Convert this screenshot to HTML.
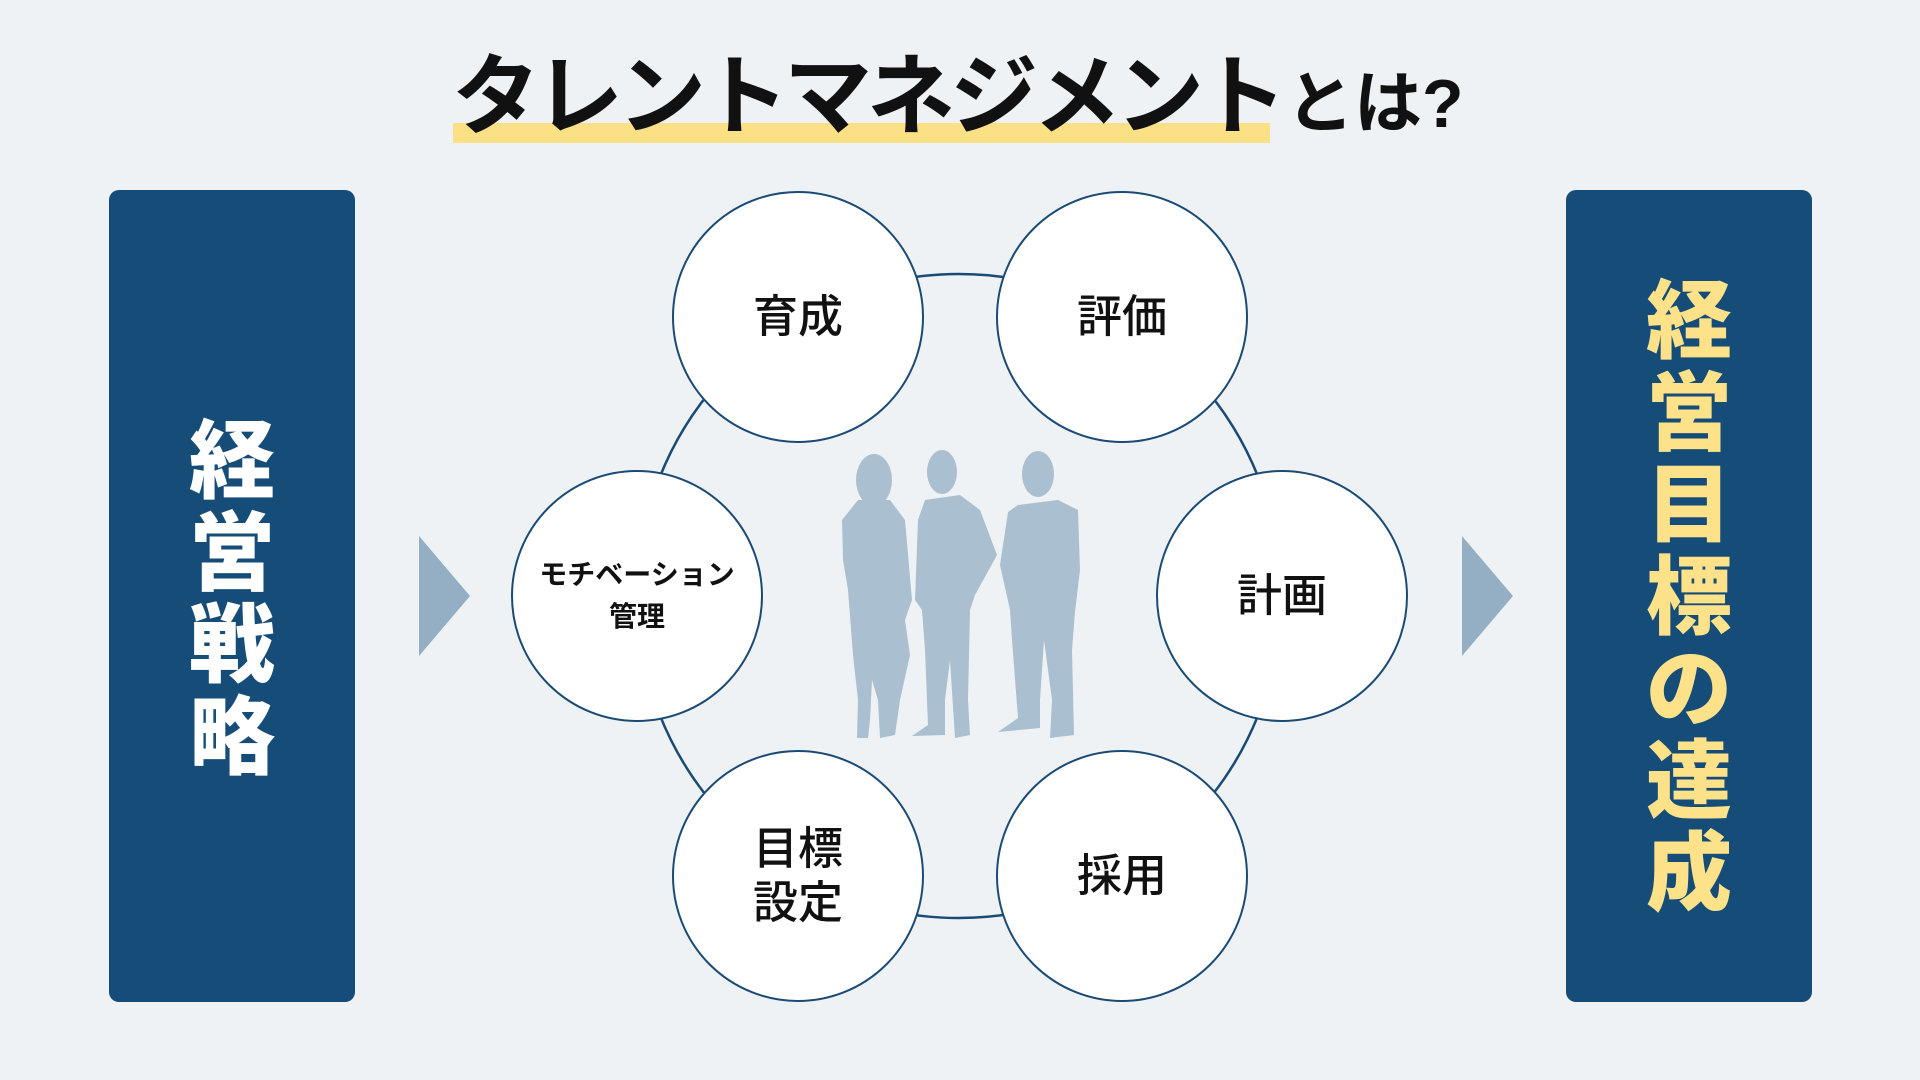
<!DOCTYPE html>
<html><head><meta charset="utf-8">
<style>
html,body{margin:0;padding:0}
body{width:1920px;height:1080px;background:#eef2f5;position:relative;overflow:hidden;font-family:"Liberation Sans","Noto Sans CJK JP",sans-serif}
.abs{position:absolute}
.panel{position:absolute;top:190px;width:246px;height:812px;background:#164c78;border-radius:10px}
.vt{position:absolute;left:0;width:246px;text-align:center;font-weight:900;font-size:86px;line-height:92px}
.c{position:absolute;width:252px;height:252px;border-radius:50%;background:#fff;border:2.5px solid #1a4a75;box-sizing:border-box;display:flex;align-items:center;justify-content:center;text-align:center;font-size:45px;font-weight:500;color:#111;line-height:54px}
</style></head><body>
<div class="abs" style="left:453px;top:123px;width:817px;height:20px;background:#fbe085"></div>
<div class="abs" style="left:452px;top:42px;font-size:88px;font-weight:700;letter-spacing:-5px;line-height:110px;color:#111;white-space:nowrap">タレントマネジメント<span style="font-size:68px;letter-spacing:0;margin-left:4px">とは?</span></div>

<div class="panel" style="left:109px"><div class="vt" style="top:226px;color:#fff">経<br>営<br>戦<br>略</div></div>
<div class="panel" style="left:1566px"><div class="vt" style="top:86px;color:#fde28a">経<br>営<br>目<br>標<br>の<br>達<br>成</div></div>

<svg class="abs" style="left:0;top:0" width="1920" height="1080">
<polygon points="419,536 470,596 419,656" fill="#94afc4"/>
<polygon points="1462,536 1513,596 1462,656" fill="#94afc4"/>
<circle cx="959" cy="596" r="322" fill="none" stroke="#1a4a75" stroke-width="2.5"/>
<g fill="#aabfd0">
<ellipse cx="874" cy="480" rx="18" ry="26"/>
<path d="M858,500 L890,500 L905,520 L912,600 L905,620 L910,655 L900,700 L895,735 L880,738 L878,700 L872,680 L870,720 L868,738 L857,738 L858,700 L853,655 L848,590 L843,560 L842,520 Z"/>
<ellipse cx="942" cy="472" rx="15" ry="22"/>
<path d="M925,500 L960,495 L980,510 L997,555 L975,595 L970,610 L968,700 L970,735 L955,738 L950,660 L945,700 L945,735 L912,736 L928,725 L925,650 L922,610 L915,600 L918,520 Z"/>
<ellipse cx="1038" cy="474" rx="16" ry="23"/>
<path d="M1018,505 L1058,500 L1078,510 L1080,570 L1075,612 L1072,650 L1074,735 L1050,738 L1052,700 L1044,640 L1040,700 L1040,728 L998,732 L1018,718 L1012,640 L1010,610 L1000,565 L1008,512 Z"/>
</g>
</svg>

<div class="c" style="left:672px;top:191px">育成</div>
<div class="c" style="left:996px;top:191px">評価</div>
<div class="c" style="left:511px;top:470px;font-size:28px;line-height:42px;font-weight:700">モチベーション<br>管理</div>
<div class="c" style="left:1156px;top:470px">計画</div>
<div class="c" style="left:672px;top:750px">目標<br>設定</div>
<div class="c" style="left:996px;top:750px">採用</div>
</body></html>
